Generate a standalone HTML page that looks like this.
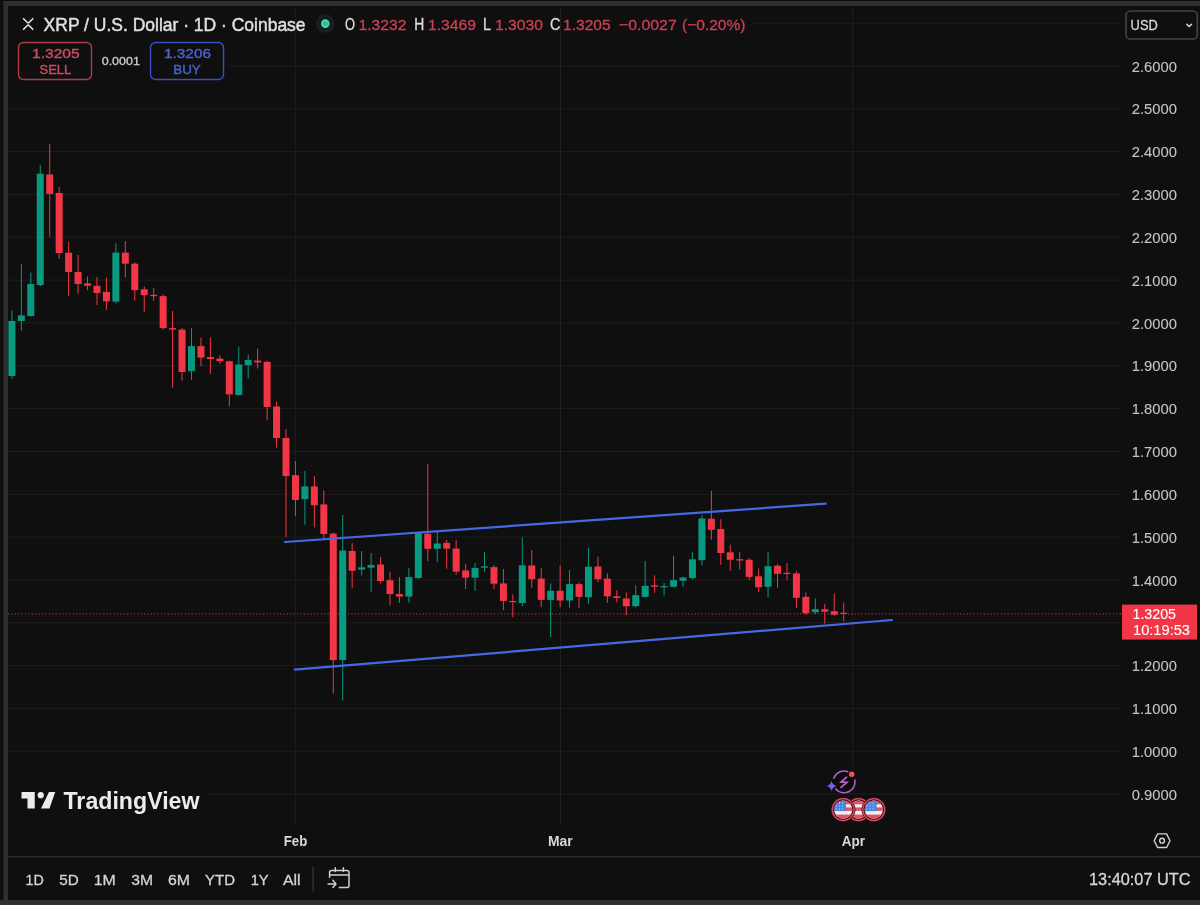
<!DOCTYPE html>
<html><head><meta charset="utf-8"><title>XRP / U.S. Dollar</title>
<style>
html,body{margin:0;padding:0;background:#0f0f0f;width:1200px;height:905px;overflow:hidden;font-family:"Liberation Sans", sans-serif;}
svg{display:block;will-change:transform;}
</style></head><body>
<svg width="1200" height="905" viewBox="0 0 1200 905" font-family='"Liberation Sans", sans-serif'><rect x="0" y="0" width="1200" height="905" fill="#0f0f0f"/><rect x="8" y="65.50" width="1112" height="1" fill="#1e1e1e"/><rect x="8" y="108.32" width="1112" height="1" fill="#1e1e1e"/><rect x="8" y="151.15" width="1112" height="1" fill="#1e1e1e"/><rect x="8" y="193.97" width="1112" height="1" fill="#1e1e1e"/><rect x="8" y="236.80" width="1112" height="1" fill="#1e1e1e"/><rect x="8" y="279.62" width="1112" height="1" fill="#1e1e1e"/><rect x="8" y="322.44" width="1112" height="1" fill="#1e1e1e"/><rect x="8" y="365.27" width="1112" height="1" fill="#1e1e1e"/><rect x="8" y="408.09" width="1112" height="1" fill="#1e1e1e"/><rect x="8" y="450.92" width="1112" height="1" fill="#1e1e1e"/><rect x="8" y="493.74" width="1112" height="1" fill="#1e1e1e"/><rect x="8" y="536.56" width="1112" height="1" fill="#1e1e1e"/><rect x="8" y="579.39" width="1112" height="1" fill="#1e1e1e"/><rect x="8" y="622.21" width="1112" height="1" fill="#1e1e1e"/><rect x="8" y="665.04" width="1112" height="1" fill="#1e1e1e"/><rect x="8" y="707.86" width="1112" height="1" fill="#1e1e1e"/><rect x="8" y="750.68" width="1112" height="1" fill="#1e1e1e"/><rect x="8" y="793.51" width="1112" height="1" fill="#1e1e1e"/><rect x="294.80" y="6" width="1" height="818" fill="#1e1e1e"/><rect x="560.00" y="6" width="1" height="818" fill="#1e1e1e"/><rect x="852.1" y="6" width="1" height="761" fill="#1e1e1e"/><rect x="752" y="22.75" width="368" height="1" fill="#1e1e1e"/><line x1="8" y1="613.9" x2="1122" y2="613.9" stroke="#f23645" stroke-width="1" stroke-dasharray="1.2 2.2" opacity="0.9"/><rect x="11.40" y="310.7" width="1" height="68.3" fill="#089981"/><rect x="8.40" y="321.0" width="7" height="55.0" fill="#089981"/><rect x="20.85" y="264.0" width="1" height="66.6" fill="#089981"/><rect x="17.85" y="315.4" width="7" height="5.6" fill="#089981"/><rect x="30.30" y="272.6" width="1" height="44.2" fill="#089981"/><rect x="27.30" y="284.0" width="7" height="32.0" fill="#089981"/><rect x="39.76" y="164.9" width="1" height="121.1" fill="#089981"/><rect x="36.76" y="173.7" width="7" height="111.3" fill="#089981"/><rect x="49.21" y="144.0" width="1" height="92.7" fill="#f23645"/><rect x="46.21" y="174.5" width="7" height="19.4" fill="#f23645"/><rect x="58.66" y="187.0" width="1" height="71.8" fill="#f23645"/><rect x="55.66" y="193.0" width="7" height="60.0" fill="#f23645"/><rect x="68.11" y="241.7" width="1" height="54.3" fill="#f23645"/><rect x="65.11" y="252.7" width="7" height="19.3" fill="#f23645"/><rect x="77.56" y="255.0" width="1" height="38.5" fill="#f23645"/><rect x="74.56" y="272.0" width="7" height="12.0" fill="#f23645"/><rect x="87.02" y="276.4" width="1" height="13.8" fill="#f23645"/><rect x="84.02" y="283.4" width="7" height="2.4" fill="#f23645"/><rect x="96.47" y="277.0" width="1" height="28.1" fill="#f23645"/><rect x="93.47" y="285.8" width="7" height="7.2" fill="#f23645"/><rect x="105.92" y="277.5" width="1" height="32.5" fill="#f23645"/><rect x="102.92" y="291.9" width="7" height="9.4" fill="#f23645"/><rect x="115.37" y="243.3" width="1" height="60.2" fill="#089981"/><rect x="112.37" y="252.6" width="7" height="49.0" fill="#089981"/><rect x="124.82" y="241.0" width="1" height="36.5" fill="#f23645"/><rect x="121.82" y="252.6" width="7" height="11.1" fill="#f23645"/><rect x="134.28" y="262.0" width="1" height="38.7" fill="#f23645"/><rect x="131.28" y="263.7" width="7" height="26.5" fill="#f23645"/><rect x="143.73" y="286.5" width="1" height="25.2" fill="#f23645"/><rect x="140.73" y="289.2" width="7" height="6.0" fill="#f23645"/><rect x="153.18" y="287.9" width="1" height="12.9" fill="#f23645"/><rect x="150.18" y="294.8" width="7" height="1.4" fill="#f23645"/><rect x="162.63" y="294.4" width="1" height="35.2" fill="#f23645"/><rect x="159.63" y="296.1" width="7" height="32.0" fill="#f23645"/><rect x="172.08" y="310.9" width="1" height="76.9" fill="#f23645"/><rect x="169.08" y="328.1" width="7" height="1.5" fill="#f23645"/><rect x="181.54" y="328.0" width="1" height="52.6" fill="#f23645"/><rect x="178.54" y="329.6" width="7" height="42.4" fill="#f23645"/><rect x="190.99" y="328.1" width="1" height="51.8" fill="#089981"/><rect x="187.99" y="346.1" width="7" height="25.1" fill="#089981"/><rect x="200.44" y="337.5" width="1" height="28.7" fill="#f23645"/><rect x="197.44" y="346.1" width="7" height="11.5" fill="#f23645"/><rect x="209.89" y="337.5" width="1" height="36.5" fill="#f23645"/><rect x="206.89" y="357.0" width="7" height="2.0" fill="#f23645"/><rect x="219.34" y="355.3" width="1" height="8.6" fill="#f23645"/><rect x="216.34" y="358.6" width="7" height="2.6" fill="#f23645"/><rect x="228.80" y="360.6" width="1" height="45.7" fill="#f23645"/><rect x="225.80" y="361.2" width="7" height="33.2" fill="#f23645"/><rect x="238.25" y="346.6" width="1" height="49.1" fill="#089981"/><rect x="235.25" y="364.5" width="7" height="30.5" fill="#089981"/><rect x="247.70" y="354.6" width="1" height="23.9" fill="#089981"/><rect x="244.70" y="359.9" width="7" height="5.3" fill="#089981"/><rect x="257.15" y="348.6" width="1" height="19.9" fill="#f23645"/><rect x="254.15" y="360.6" width="7" height="1.9" fill="#f23645"/><rect x="266.60" y="360.6" width="1" height="59.6" fill="#f23645"/><rect x="263.60" y="361.9" width="7" height="45.1" fill="#f23645"/><rect x="276.06" y="401.5" width="1" height="46.1" fill="#f23645"/><rect x="273.06" y="406.5" width="7" height="31.5" fill="#f23645"/><rect x="285.51" y="429.2" width="1" height="108.0" fill="#f23645"/><rect x="282.51" y="438.0" width="7" height="38.1" fill="#f23645"/><rect x="294.96" y="461.0" width="1" height="55.0" fill="#f23645"/><rect x="291.96" y="475.2" width="7" height="24.8" fill="#f23645"/><rect x="304.41" y="470.8" width="1" height="54.0" fill="#089981"/><rect x="301.41" y="486.4" width="7" height="12.7" fill="#089981"/><rect x="313.86" y="476.1" width="1" height="51.3" fill="#f23645"/><rect x="310.86" y="486.4" width="7" height="18.9" fill="#f23645"/><rect x="323.32" y="490.3" width="1" height="49.5" fill="#f23645"/><rect x="320.32" y="504.4" width="7" height="29.6" fill="#f23645"/><rect x="332.77" y="532.5" width="1" height="161.2" fill="#f23645"/><rect x="329.77" y="533.6" width="7" height="126.5" fill="#f23645"/><rect x="342.22" y="515.1" width="1" height="185.6" fill="#089981"/><rect x="339.22" y="550.6" width="7" height="109.5" fill="#089981"/><rect x="351.67" y="542.9" width="1" height="45.3" fill="#f23645"/><rect x="348.67" y="551.0" width="7" height="19.8" fill="#f23645"/><rect x="361.12" y="551.0" width="1" height="24.4" fill="#089981"/><rect x="358.12" y="567.3" width="7" height="2.3" fill="#089981"/><rect x="370.58" y="552.9" width="1" height="38.7" fill="#089981"/><rect x="367.58" y="565.0" width="7" height="2.7" fill="#089981"/><rect x="380.03" y="557.0" width="1" height="26.4" fill="#f23645"/><rect x="377.03" y="564.5" width="7" height="16.5" fill="#f23645"/><rect x="389.48" y="572.0" width="1" height="33.5" fill="#f23645"/><rect x="386.48" y="580.2" width="7" height="13.8" fill="#f23645"/><rect x="398.93" y="577.1" width="1" height="25.7" fill="#f23645"/><rect x="395.93" y="594.0" width="7" height="2.6" fill="#f23645"/><rect x="408.38" y="568.3" width="1" height="34.5" fill="#089981"/><rect x="405.38" y="577.1" width="7" height="19.5" fill="#089981"/><rect x="417.84" y="532.9" width="1" height="46.0" fill="#089981"/><rect x="414.84" y="532.9" width="7" height="45.1" fill="#089981"/><rect x="427.29" y="463.8" width="1" height="97.4" fill="#f23645"/><rect x="424.29" y="533.8" width="7" height="15.0" fill="#f23645"/><rect x="436.74" y="531.1" width="1" height="31.0" fill="#089981"/><rect x="433.74" y="543.5" width="7" height="5.3" fill="#089981"/><rect x="446.19" y="540.0" width="1" height="28.7" fill="#f23645"/><rect x="443.19" y="542.8" width="7" height="5.8" fill="#f23645"/><rect x="455.64" y="539.9" width="1" height="35.1" fill="#f23645"/><rect x="452.64" y="548.5" width="7" height="23.2" fill="#f23645"/><rect x="465.10" y="563.8" width="1" height="25.2" fill="#f23645"/><rect x="462.10" y="570.4" width="7" height="7.3" fill="#f23645"/><rect x="474.55" y="563.1" width="1" height="27.9" fill="#089981"/><rect x="471.55" y="568.0" width="7" height="9.7" fill="#089981"/><rect x="484.00" y="551.8" width="1" height="19.9" fill="#089981"/><rect x="481.00" y="566.4" width="7" height="1.3" fill="#089981"/><rect x="493.45" y="565.1" width="1" height="23.9" fill="#f23645"/><rect x="490.45" y="567.1" width="7" height="16.6" fill="#f23645"/><rect x="502.90" y="569.0" width="1" height="41.2" fill="#f23645"/><rect x="499.90" y="583.4" width="7" height="17.5" fill="#f23645"/><rect x="512.36" y="594.3" width="1" height="23.0" fill="#f23645"/><rect x="509.36" y="601.0" width="7" height="1.2" fill="#f23645"/><rect x="521.81" y="537.3" width="1" height="68.7" fill="#089981"/><rect x="518.81" y="565.3" width="7" height="37.7" fill="#089981"/><rect x="531.26" y="550.0" width="1" height="37.8" fill="#f23645"/><rect x="528.26" y="565.5" width="7" height="13.7" fill="#f23645"/><rect x="540.71" y="568.3" width="1" height="38.9" fill="#f23645"/><rect x="537.71" y="578.6" width="7" height="21.3" fill="#f23645"/><rect x="550.16" y="583.5" width="1" height="53.5" fill="#089981"/><rect x="547.16" y="590.8" width="7" height="9.1" fill="#089981"/><rect x="559.62" y="565.3" width="1" height="41.9" fill="#f23645"/><rect x="556.62" y="590.8" width="7" height="9.7" fill="#f23645"/><rect x="569.07" y="570.1" width="1" height="37.7" fill="#089981"/><rect x="566.07" y="584.1" width="7" height="16.4" fill="#089981"/><rect x="578.52" y="582.3" width="1" height="25.5" fill="#f23645"/><rect x="575.52" y="584.1" width="7" height="12.8" fill="#f23645"/><rect x="587.97" y="547.6" width="1" height="56.4" fill="#089981"/><rect x="584.97" y="566.7" width="7" height="30.5" fill="#089981"/><rect x="597.42" y="556.5" width="1" height="25.5" fill="#f23645"/><rect x="594.42" y="566.5" width="7" height="12.7" fill="#f23645"/><rect x="606.88" y="573.6" width="1" height="29.3" fill="#f23645"/><rect x="603.88" y="578.6" width="7" height="17.7" fill="#f23645"/><rect x="616.33" y="590.2" width="1" height="12.2" fill="#f23645"/><rect x="613.33" y="596.3" width="7" height="1.7" fill="#f23645"/><rect x="625.78" y="592.4" width="1" height="22.7" fill="#f23645"/><rect x="622.78" y="598.5" width="7" height="7.7" fill="#f23645"/><rect x="635.23" y="585.2" width="1" height="22.1" fill="#089981"/><rect x="632.23" y="595.2" width="7" height="11.0" fill="#089981"/><rect x="644.68" y="560.9" width="1" height="36.5" fill="#089981"/><rect x="641.68" y="585.8" width="7" height="11.1" fill="#089981"/><rect x="654.14" y="575.4" width="1" height="17.4" fill="#f23645"/><rect x="651.14" y="585.3" width="7" height="1.4" fill="#f23645"/><rect x="663.59" y="582.8" width="1" height="12.6" fill="#089981"/><rect x="660.59" y="586.1" width="7" height="1.3" fill="#089981"/><rect x="673.04" y="555.6" width="1" height="31.8" fill="#089981"/><rect x="670.04" y="580.1" width="7" height="6.7" fill="#089981"/><rect x="682.49" y="576.8" width="1" height="10.0" fill="#089981"/><rect x="679.49" y="577.5" width="7" height="3.3" fill="#089981"/><rect x="691.94" y="552.3" width="1" height="27.2" fill="#089981"/><rect x="688.94" y="559.3" width="7" height="18.8" fill="#089981"/><rect x="701.40" y="515.1" width="1" height="50.4" fill="#089981"/><rect x="698.40" y="518.5" width="7" height="41.7" fill="#089981"/><rect x="710.85" y="490.6" width="1" height="49.1" fill="#f23645"/><rect x="707.85" y="518.7" width="7" height="11.1" fill="#f23645"/><rect x="720.30" y="519.1" width="1" height="45.7" fill="#f23645"/><rect x="717.30" y="529.0" width="7" height="24.0" fill="#f23645"/><rect x="729.75" y="544.7" width="1" height="26.1" fill="#f23645"/><rect x="726.75" y="552.3" width="7" height="7.5" fill="#f23645"/><rect x="739.20" y="552.0" width="1" height="17.6" fill="#f23645"/><rect x="736.20" y="559.2" width="7" height="1.3" fill="#f23645"/><rect x="748.66" y="558.0" width="1" height="21.9" fill="#f23645"/><rect x="745.66" y="559.8" width="7" height="17.1" fill="#f23645"/><rect x="758.11" y="568.4" width="1" height="23.7" fill="#f23645"/><rect x="755.11" y="576.3" width="7" height="10.9" fill="#f23645"/><rect x="767.56" y="552.0" width="1" height="45.5" fill="#089981"/><rect x="764.56" y="566.2" width="7" height="20.6" fill="#089981"/><rect x="777.01" y="564.1" width="1" height="23.7" fill="#f23645"/><rect x="774.01" y="565.7" width="7" height="8.1" fill="#f23645"/><rect x="786.46" y="563.2" width="1" height="17.0" fill="#f23645"/><rect x="783.46" y="572.8" width="7" height="1.2" fill="#f23645"/><rect x="795.92" y="570.9" width="1" height="36.8" fill="#f23645"/><rect x="792.92" y="573.4" width="7" height="24.4" fill="#f23645"/><rect x="805.37" y="592.3" width="1" height="22.4" fill="#f23645"/><rect x="802.37" y="596.8" width="7" height="16.4" fill="#f23645"/><rect x="814.82" y="598.3" width="1" height="15.9" fill="#089981"/><rect x="811.82" y="609.2" width="7" height="3.0" fill="#089981"/><rect x="824.27" y="603.7" width="1" height="19.9" fill="#f23645"/><rect x="821.27" y="609.2" width="7" height="2.5" fill="#f23645"/><rect x="833.72" y="593.8" width="1" height="21.9" fill="#f23645"/><rect x="830.72" y="611.2" width="7" height="3.5" fill="#f23645"/><rect x="843.18" y="602.6" width="1" height="18.8" fill="#f23645"/><rect x="840.18" y="612.7" width="7" height="1.2" fill="#f23645"/><line x1="285" y1="542" x2="825.7" y2="503.7" stroke="#4668e4" stroke-width="2.2" stroke-linecap="round"/><line x1="294.7" y1="669.7" x2="892" y2="620" stroke="#4668e4" stroke-width="2.2" stroke-linecap="round"/><text x="1131.7" y="71.6" font-size="14.7" fill="#c4c4c4" font-weight="normal" text-anchor="start" textLength="45.2" lengthAdjust="spacingAndGlyphs" stroke="#c4c4c4" stroke-width="0.1" >2.6000</text><text x="1131.7" y="114.4" font-size="14.7" fill="#c4c4c4" font-weight="normal" text-anchor="start" textLength="45.2" lengthAdjust="spacingAndGlyphs" stroke="#c4c4c4" stroke-width="0.1" >2.5000</text><text x="1131.7" y="157.2" font-size="14.7" fill="#c4c4c4" font-weight="normal" text-anchor="start" textLength="45.2" lengthAdjust="spacingAndGlyphs" stroke="#c4c4c4" stroke-width="0.1" >2.4000</text><text x="1131.7" y="200.1" font-size="14.7" fill="#c4c4c4" font-weight="normal" text-anchor="start" textLength="45.2" lengthAdjust="spacingAndGlyphs" stroke="#c4c4c4" stroke-width="0.1" >2.3000</text><text x="1131.7" y="242.9" font-size="14.7" fill="#c4c4c4" font-weight="normal" text-anchor="start" textLength="45.2" lengthAdjust="spacingAndGlyphs" stroke="#c4c4c4" stroke-width="0.1" >2.2000</text><text x="1131.7" y="285.7" font-size="14.7" fill="#c4c4c4" font-weight="normal" text-anchor="start" textLength="45.2" lengthAdjust="spacingAndGlyphs" stroke="#c4c4c4" stroke-width="0.1" >2.1000</text><text x="1131.7" y="328.5" font-size="14.7" fill="#c4c4c4" font-weight="normal" text-anchor="start" textLength="45.2" lengthAdjust="spacingAndGlyphs" stroke="#c4c4c4" stroke-width="0.1" >2.0000</text><text x="1131.7" y="371.4" font-size="14.7" fill="#c4c4c4" font-weight="normal" text-anchor="start" textLength="45.2" lengthAdjust="spacingAndGlyphs" stroke="#c4c4c4" stroke-width="0.1" >1.9000</text><text x="1131.7" y="414.2" font-size="14.7" fill="#c4c4c4" font-weight="normal" text-anchor="start" textLength="45.2" lengthAdjust="spacingAndGlyphs" stroke="#c4c4c4" stroke-width="0.1" >1.8000</text><text x="1131.7" y="457.0" font-size="14.7" fill="#c4c4c4" font-weight="normal" text-anchor="start" textLength="45.2" lengthAdjust="spacingAndGlyphs" stroke="#c4c4c4" stroke-width="0.1" >1.7000</text><text x="1131.7" y="499.8" font-size="14.7" fill="#c4c4c4" font-weight="normal" text-anchor="start" textLength="45.2" lengthAdjust="spacingAndGlyphs" stroke="#c4c4c4" stroke-width="0.1" >1.6000</text><text x="1131.7" y="542.7" font-size="14.7" fill="#c4c4c4" font-weight="normal" text-anchor="start" textLength="45.2" lengthAdjust="spacingAndGlyphs" stroke="#c4c4c4" stroke-width="0.1" >1.5000</text><text x="1131.7" y="585.5" font-size="14.7" fill="#c4c4c4" font-weight="normal" text-anchor="start" textLength="45.2" lengthAdjust="spacingAndGlyphs" stroke="#c4c4c4" stroke-width="0.1" >1.4000</text><text x="1131.7" y="671.1" font-size="14.7" fill="#c4c4c4" font-weight="normal" text-anchor="start" textLength="45.2" lengthAdjust="spacingAndGlyphs" stroke="#c4c4c4" stroke-width="0.1" >1.2000</text><text x="1131.7" y="714.0" font-size="14.7" fill="#c4c4c4" font-weight="normal" text-anchor="start" textLength="45.2" lengthAdjust="spacingAndGlyphs" stroke="#c4c4c4" stroke-width="0.1" >1.1000</text><text x="1131.7" y="756.8" font-size="14.7" fill="#c4c4c4" font-weight="normal" text-anchor="start" textLength="45.2" lengthAdjust="spacingAndGlyphs" stroke="#c4c4c4" stroke-width="0.1" >1.0000</text><text x="1131.7" y="799.6" font-size="14.7" fill="#c4c4c4" font-weight="normal" text-anchor="start" textLength="45.2" lengthAdjust="spacingAndGlyphs" stroke="#c4c4c4" stroke-width="0.1" >0.9000</text><rect x="1122" y="604.6" width="75" height="35" fill="#f23645"/><text x="1132.5" y="618.8" font-size="14.5" fill="#ffffff" font-weight="normal" text-anchor="start" textLength="43.5" lengthAdjust="spacingAndGlyphs" stroke="#ffffff" stroke-width="0.1" >1.3205</text><text x="1133" y="634.6" font-size="14.5" fill="#ffffff" font-weight="normal" text-anchor="start" textLength="57" lengthAdjust="spacingAndGlyphs" stroke="#ffffff" stroke-width="0.1" >10:19:53</text><path d="M23.6,18.7 L27.1,22.2 Q28.2,23.4 29.3,22.2 L32.8,18.7 M23.6,29.3 L27.1,25.7 Q28.2,24.5 29.3,25.7 L32.8,29.3" fill="none" stroke="#e4e4e4" stroke-width="1.6" stroke-linecap="round"/><text x="43.6" y="30.5" font-size="18.8" fill="#e0e0e0" font-weight="normal" text-anchor="start" textLength="262" lengthAdjust="spacingAndGlyphs" stroke="#e0e0e0" stroke-width="0.45" >XRP / U.S. Dollar · 1D · Coinbase</text><circle cx="325.3" cy="23.6" r="9.5" fill="#18201e"/><circle cx="325.3" cy="23.6" r="6" fill="#03211a"/><circle cx="325.3" cy="23.6" r="4.3" fill="#5ccfb0"/><circle cx="325.3" cy="23.6" r="2.6" fill="#35bf9c"/><text x="345" y="30" font-size="15.8" fill="#dcdcdc" font-weight="normal" text-anchor="start" textLength="10" lengthAdjust="spacingAndGlyphs" stroke="#dcdcdc" stroke-width="0.3" >O</text><text x="358.5" y="30" font-size="15.4" fill="#c94053" font-weight="normal" text-anchor="start" textLength="48" lengthAdjust="spacingAndGlyphs" stroke="#c94053" stroke-width="0.3" >1.3232</text><text x="414.3" y="30" font-size="15.8" fill="#dcdcdc" font-weight="normal" text-anchor="start" textLength="10" lengthAdjust="spacingAndGlyphs" stroke="#dcdcdc" stroke-width="0.3" >H</text><text x="428" y="30" font-size="15.4" fill="#c94053" font-weight="normal" text-anchor="start" textLength="48" lengthAdjust="spacingAndGlyphs" stroke="#c94053" stroke-width="0.3" >1.3469</text><text x="483" y="30" font-size="15.8" fill="#dcdcdc" font-weight="normal" text-anchor="start" textLength="8" lengthAdjust="spacingAndGlyphs" stroke="#dcdcdc" stroke-width="0.3" >L</text><text x="495" y="30" font-size="15.4" fill="#c94053" font-weight="normal" text-anchor="start" textLength="48" lengthAdjust="spacingAndGlyphs" stroke="#c94053" stroke-width="0.3" >1.3030</text><text x="550" y="30" font-size="15.8" fill="#dcdcdc" font-weight="normal" text-anchor="start" textLength="10.5" lengthAdjust="spacingAndGlyphs" stroke="#dcdcdc" stroke-width="0.3" >C</text><text x="563" y="30" font-size="15.4" fill="#c94053" font-weight="normal" text-anchor="start" textLength="47.6" lengthAdjust="spacingAndGlyphs" stroke="#c94053" stroke-width="0.3" >1.3205</text><text x="619" y="30" font-size="15.4" fill="#c94053" font-weight="normal" text-anchor="start" textLength="57.7" lengthAdjust="spacingAndGlyphs" stroke="#c94053" stroke-width="0.3" >−0.0027</text><text x="682" y="30" font-size="15.4" fill="#c94053" font-weight="normal" text-anchor="start" textLength="63.5" lengthAdjust="spacingAndGlyphs" stroke="#c94053" stroke-width="0.3" >(−0.20%)</text><rect x="9" y="40" width="219" height="44" fill="#0f0f0f"/><rect x="18.5" y="42.5" width="73" height="37" rx="5" fill="none" stroke="#b03c4b" stroke-width="1.4"/><text x="32" y="58.2" font-size="13.2" fill="#d04c62" font-weight="normal" text-anchor="start" textLength="47.7" lengthAdjust="spacingAndGlyphs" stroke="#d04c62" stroke-width="0.35" >1.3205</text><text x="39.6" y="73.8" font-size="13.2" fill="#d04c62" font-weight="normal" text-anchor="start" textLength="31.6" lengthAdjust="spacingAndGlyphs" stroke="#d04c62" stroke-width="0.35" >SELL</text><text x="101.7" y="64.8" font-size="11.5" fill="#d0d0d0" font-weight="normal" text-anchor="start" textLength="38.2" lengthAdjust="spacingAndGlyphs" stroke="#d0d0d0" stroke-width="0.3" >0.0001</text><rect x="150.5" y="42.5" width="73" height="37" rx="5" fill="none" stroke="#3652c0" stroke-width="1.4"/><text x="164" y="58.2" font-size="13.2" fill="#4964d8" font-weight="normal" text-anchor="start" textLength="47" lengthAdjust="spacingAndGlyphs" stroke="#4964d8" stroke-width="0.35" >1.3206</text><text x="173.2" y="73.8" font-size="13.2" fill="#4964d8" font-weight="normal" text-anchor="start" textLength="27.6" lengthAdjust="spacingAndGlyphs" stroke="#4964d8" stroke-width="0.35" >BUY</text><rect x="1126" y="11" width="71.3" height="28" rx="4.5" fill="none" stroke="#444444" stroke-width="1.6"/><text x="1130.6" y="30.1" font-size="14.5" fill="#d8d8d8" font-weight="normal" text-anchor="start" textLength="27.2" lengthAdjust="spacingAndGlyphs" stroke="#d8d8d8" stroke-width="0.3" >USD</text><path d="M1186.8,24.2 L1189.2,26.5 L1191.6,24.2" fill="none" stroke="#e0e0e0" stroke-width="1.4" stroke-linecap="round" stroke-linejoin="round"/><rect x="9" y="784" width="196" height="32" fill="#0f0f0f"/><path d="M21.5,792 H34.75 V808.5 H27.5 V798.5 H21.5 Z" fill="#ececec"/><circle cx="40.75" cy="795.2" r="3.1" fill="#ececec"/><path d="M49,792 H55.2 L49.5,808.5 H41 Z" fill="#ececec"/><text x="63.5" y="808.5" font-size="23.5" fill="#ececec" font-weight="bold" text-anchor="start" textLength="136" lengthAdjust="spacingAndGlyphs" >TradingView</text><circle cx="844.1" cy="781.9" r="11.5" fill="#0c0c0c"/><path d="M854.83,780.01 A10.9,10.9 0 0 1 835.75,788.91 M833.86,778.17 A10.9,10.9 0 0 1 847.83,771.66" fill="none" stroke="#b35cc8" stroke-width="1.6" stroke-linecap="round"/><path d="M846.6,777.2 L841.2,782.0 L847.0,782.3 L841.0,787.4" fill="none" stroke="#c462d6" stroke-width="1.7" stroke-linejoin="miter" stroke-linecap="round"/><circle cx="851.7" cy="774.3" r="3.6" fill="#2a0c10"/><circle cx="851.7" cy="774.3" r="2.7" fill="#ee5262"/><path d="M831.6,780.6 Q832.3,785.4 837.2,786.1 Q832.3,786.8 831.6,791.6 Q830.9,786.8 826,786.1 Q830.9,785.4 831.6,780.6 Z" fill="#7b5cf2"/><circle cx="858.5" cy="809.6" r="12.3" fill="#4a0a12"/><circle cx="858.5" cy="809.6" r="11.6" fill="#cf5565"/><circle cx="858.5" cy="809.6" r="10.3" fill="#5e0914"/><clipPath id="f2"><circle cx="858.5" cy="809.6" r="9.1"/></clipPath><g clip-path="url(#f2)"><rect x="848.5" y="799.6" width="20" height="20" fill="#f2eef0"/><rect x="848.5" y="799.6" width="20" height="4.7" fill="#d9566a"/><rect x="848.5" y="807.4" width="20" height="3.5" fill="#d9566a"/><rect x="848.5" y="814.6" width="20" height="5.0" fill="#d9566a"/></g><circle cx="843.2" cy="809.6" r="12.3" fill="#4a0a12"/><circle cx="843.2" cy="809.6" r="11.6" fill="#cf5565"/><circle cx="843.2" cy="809.6" r="10.3" fill="#5e0914"/><clipPath id="f1"><circle cx="843.2" cy="809.6" r="9.1"/></clipPath><g clip-path="url(#f1)"><rect x="833.2" y="799.6" width="20" height="20" fill="#f2eef0"/><rect x="833.2" y="799.6" width="20" height="4.7" fill="#d9566a"/><rect x="833.2" y="807.4" width="20" height="3.5" fill="#d9566a"/><rect x="833.2" y="814.6" width="20" height="5.0" fill="#d9566a"/><rect x="833.2" y="799.6" width="12.8" height="11.5" fill="#4a84e2"/><rect x="835.6" y="802.4" width="1.3" height="1.3" fill="#9cc4f4"/><rect x="838.7" y="802.4" width="1.3" height="1.3" fill="#9cc4f4"/><rect x="841.8" y="802.4" width="1.3" height="1.3" fill="#9cc4f4"/><rect x="835.6" y="805.4" width="1.3" height="1.3" fill="#9cc4f4"/><rect x="838.7" y="805.4" width="1.3" height="1.3" fill="#9cc4f4"/><rect x="841.8" y="805.4" width="1.3" height="1.3" fill="#9cc4f4"/><rect x="835.6" y="808.4" width="1.3" height="1.3" fill="#9cc4f4"/><rect x="838.7" y="808.4" width="1.3" height="1.3" fill="#9cc4f4"/><rect x="841.8" y="808.4" width="1.3" height="1.3" fill="#9cc4f4"/></g><circle cx="873.8" cy="809.6" r="12.3" fill="#4a0a12"/><circle cx="873.8" cy="809.6" r="11.6" fill="#cf5565"/><circle cx="873.8" cy="809.6" r="10.3" fill="#5e0914"/><clipPath id="f3"><circle cx="873.8" cy="809.6" r="9.1"/></clipPath><g clip-path="url(#f3)"><rect x="863.8" y="799.6" width="20" height="20" fill="#f2eef0"/><rect x="863.8" y="799.6" width="20" height="4.7" fill="#d9566a"/><rect x="863.8" y="807.4" width="20" height="3.5" fill="#d9566a"/><rect x="863.8" y="814.6" width="20" height="5.0" fill="#d9566a"/><rect x="863.8" y="799.6" width="12.8" height="11.5" fill="#4a84e2"/><rect x="866.2" y="802.4" width="1.3" height="1.3" fill="#9cc4f4"/><rect x="869.3" y="802.4" width="1.3" height="1.3" fill="#9cc4f4"/><rect x="872.4" y="802.4" width="1.3" height="1.3" fill="#9cc4f4"/><rect x="866.2" y="805.4" width="1.3" height="1.3" fill="#9cc4f4"/><rect x="869.3" y="805.4" width="1.3" height="1.3" fill="#9cc4f4"/><rect x="872.4" y="805.4" width="1.3" height="1.3" fill="#9cc4f4"/><rect x="866.2" y="808.4" width="1.3" height="1.3" fill="#9cc4f4"/><rect x="869.3" y="808.4" width="1.3" height="1.3" fill="#9cc4f4"/><rect x="872.4" y="808.4" width="1.3" height="1.3" fill="#9cc4f4"/></g><text x="283.8" y="846.2" font-size="14" fill="#d8d8d8" font-weight="bold" text-anchor="start" textLength="23.5" lengthAdjust="spacingAndGlyphs" >Feb</text><text x="548" y="846.4" font-size="14" fill="#d8d8d8" font-weight="bold" text-anchor="start" textLength="24.8" lengthAdjust="spacingAndGlyphs" >Mar</text><text x="841.7" y="846.3" font-size="14" fill="#d8d8d8" font-weight="bold" text-anchor="start" textLength="23.3" lengthAdjust="spacingAndGlyphs" >Apr</text><path d="M1154.20,840.7 L1157.60,833.90 L1166.60,833.90 L1170.00,840.7 L1166.60,847.50 L1157.60,847.50 Z" fill="none" stroke="#d4d4d4" stroke-width="1.4" stroke-linejoin="round"/><circle cx="1162.1" cy="840.7" r="2.4" fill="none" stroke="#d4d4d4" stroke-width="1.4"/><rect x="8" y="856" width="1192" height="1.3" fill="#2b2b2b"/><text x="25.5" y="885.3" font-size="15.2" fill="#d4d4d4" font-weight="normal" text-anchor="start" textLength="18.3" lengthAdjust="spacingAndGlyphs" stroke="#d4d4d4" stroke-width="0.3" >1D</text><text x="59.2" y="885.3" font-size="15.2" fill="#d4d4d4" font-weight="normal" text-anchor="start" textLength="19.5" lengthAdjust="spacingAndGlyphs" stroke="#d4d4d4" stroke-width="0.3" >5D</text><text x="93.7" y="885.3" font-size="15.2" fill="#d4d4d4" font-weight="normal" text-anchor="start" textLength="22.1" lengthAdjust="spacingAndGlyphs" stroke="#d4d4d4" stroke-width="0.3" >1M</text><text x="131.2" y="885.3" font-size="15.2" fill="#d4d4d4" font-weight="normal" text-anchor="start" textLength="21.8" lengthAdjust="spacingAndGlyphs" stroke="#d4d4d4" stroke-width="0.3" >3M</text><text x="168" y="885.3" font-size="15.2" fill="#d4d4d4" font-weight="normal" text-anchor="start" textLength="22" lengthAdjust="spacingAndGlyphs" stroke="#d4d4d4" stroke-width="0.3" >6M</text><text x="205" y="885.3" font-size="15.2" fill="#d4d4d4" font-weight="normal" text-anchor="start" textLength="30" lengthAdjust="spacingAndGlyphs" stroke="#d4d4d4" stroke-width="0.3" >YTD</text><text x="250.7" y="885.3" font-size="15.2" fill="#d4d4d4" font-weight="normal" text-anchor="start" textLength="18.0" lengthAdjust="spacingAndGlyphs" stroke="#d4d4d4" stroke-width="0.3" >1Y</text><text x="283" y="885.3" font-size="15.2" fill="#d4d4d4" font-weight="normal" text-anchor="start" textLength="17.6" lengthAdjust="spacingAndGlyphs" stroke="#d4d4d4" stroke-width="0.3" >All</text><rect x="312.5" y="866.7" width="1.2" height="24.8" fill="#3a3a3a"/><path d="M329.6,877.2 V872.5 Q329.6,870.5 331.6,870.5 H347 Q349,870.5 349,872.5 V885.4 Q349,887.4 347,887.4 H339.4 M329.6,874.9 H349 M335.3,867.8 V871.6 M343.4,867.8 V871.6 M328.1,883.9 H335.9 M332.9,880.2 L335.9,883.9 L332.9,887.5" fill="none" stroke="#d0d0d0" stroke-width="1.5" stroke-linecap="round" stroke-linejoin="round"/><text x="1089" y="885" font-size="16.5" fill="#d8d8d8" font-weight="normal" text-anchor="start" textLength="101.5" lengthAdjust="spacingAndGlyphs" stroke="#d8d8d8" stroke-width="0.3" >13:40:07 UTC</text><rect x="0" y="0" width="1200" height="1" fill="#0c0c0c"/><rect x="0" y="1" width="1200" height="5" fill="#2f2f2f"/><rect x="0" y="6" width="1200" height="1.5" fill="#0d0d0d"/><rect x="0" y="0" width="3.5" height="905" fill="#0f0f0f"/><rect x="3.5" y="1" width="4.5" height="905" fill="#2f2f2f"/><rect x="0" y="900" width="1200" height="5" fill="#2f2f2f"/></svg>
</body></html>
